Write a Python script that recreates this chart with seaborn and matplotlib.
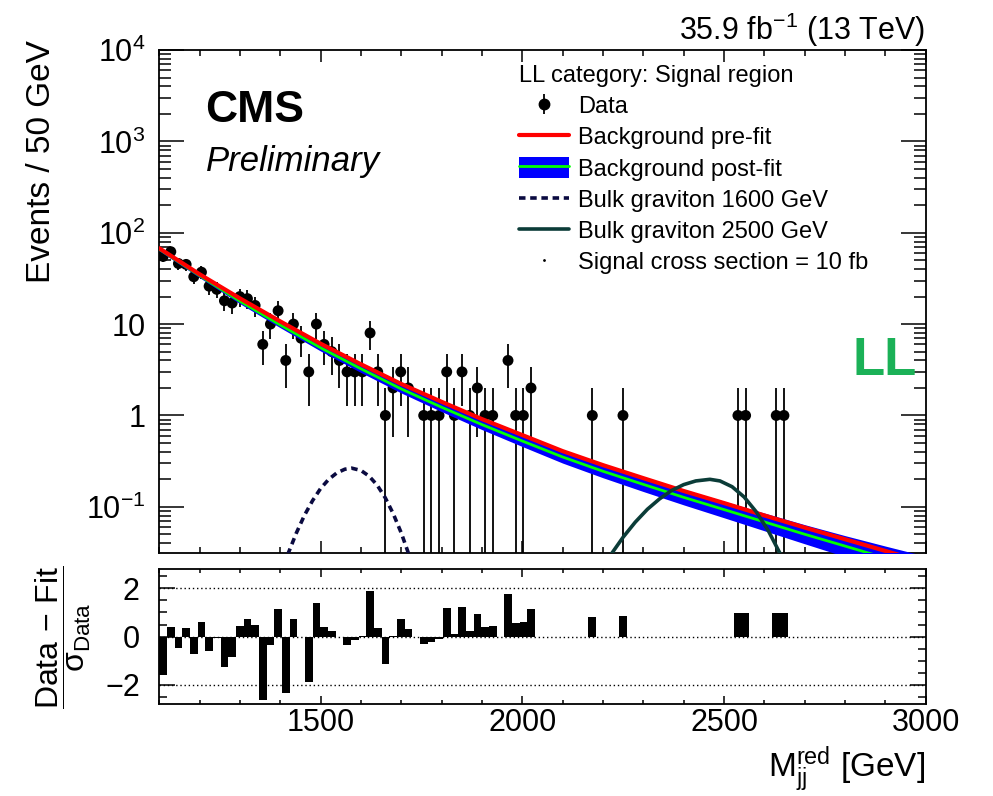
import numpy as np
import pandas as pd
import matplotlib
matplotlib.use("Agg")
import matplotlib.pyplot as plt
import seaborn as sns
from matplotlib.lines import Line2D
from matplotlib.patches import Patch
from matplotlib.legend_handler import HandlerTuple
from matplotlib.ticker import FixedLocator, MultipleLocator, LogLocator, NullFormatter, FuncFormatter

# ---------------- data ----------------
mass_min, mass_max, n_bins = 1100, 3000, 100   # 19 GeV bins

# events in the first 49 bins (1100 - 2031 GeV)
dense_counts = [55, 62, 46, 45, 33, 37, 26, 24, 18, 17,
                20, 19, 16, 6, 10, 14, 4, 10, 7, 3,
                10, 6, 5, 4, 3, 3, 3, 8, 3, 1,
                2, 3, 2, 0, 1, 1, 1, 3, 1, 3,
                1, 2, 1, 1, 0, 4, 1, 1, 2]
dense_pulls = [-1.58, 0.41, -0.48, 0.34, -0.72, 0.62, -0.58, -0.05, -1.24, -0.83,
               0.45, 0.72, 0.48, -2.61, -0.34, 1.13, -2.34, 0.72, 0.0, -1.86,
               1.40, 0.41, 0.25, 0.0, -0.34, -0.14, 0.04, 1.90, 0.34, -1.14,
               0.03, 0.72, 0.30, 0.0, -0.32, -0.21, -0.10, 1.17, 0.11, 1.24,
               0.25, 0.92, 0.41, 0.44, 0.0, 1.75, 0.58, 0.60, 1.13]
# isolated high-mass bins
sparse_bins = [56, 60, 75, 76, 80, 81]
sparse_counts = [1, 1, 1, 1, 1, 1]
sparse_pulls = [0.81, 0.87, 0.98, 0.98, 0.98, 0.98]

# background curves
curve_mass = [1100, 1200, 1300, 1400, 1500, 1600, 1700, 1800, 1900, 2000,
              2100, 2200, 2300, 2400, 2500, 2600, 2700, 2800, 2900, 3000]
bkg_prefit = [67.6, 35.1, 19.1, 10.7, 6.10, 3.63, 2.21, 1.41, 0.912, 0.610,
              0.407, 0.286, 0.206, 0.149, 0.110, 0.0805, 0.0593, 0.0442, 0.0329, 0.0245]
bkg_postfit = [66.1, 33.9, 17.8, 9.77, 5.50, 3.24, 1.95, 1.23, 0.794, 0.525,
               0.351, 0.245, 0.176, 0.127, 0.0933, 0.0684, 0.0501, 0.0372, 0.0275, 0.0204]
bkg_postfit_lo = [63.1, 32.2, 16.7, 9.12, 5.07, 2.95, 1.76, 1.10, 0.700, 0.457,
                  0.301, 0.208, 0.147, 0.105, 0.0759, 0.0547, 0.0394, 0.0285, 0.0204, 0.0145]
bkg_postfit_hi = [69.2, 35.6, 18.9, 10.5, 5.96, 3.55, 2.16, 1.38, 0.902, 0.603,
                  0.408, 0.290, 0.210, 0.155, 0.115, 0.0855, 0.0638, 0.0484, 0.0372, 0.0288]

# signal shapes
sig1600_mass = [1400, 1420, 1440, 1460, 1480, 1500, 1520, 1540, 1560, 1577,
                1600, 1620, 1640, 1660, 1680, 1700, 1720, 1740]
sig1600_vals = [0.0176, 0.0313, 0.052, 0.081, 0.117, 0.159, 0.200, 0.235, 0.258, 0.265,
                0.250, 0.217, 0.173, 0.126, 0.084, 0.0516, 0.029, 0.015]
sig2500_mass = [2200, 2220, 2250, 2280, 2310, 2340, 2370, 2400, 2430, 2465,
                2490, 2520, 2550, 2580, 2610, 2640, 2670]
sig2500_vals = [0.0219, 0.0302, 0.0466, 0.068, 0.094, 0.122, 0.151, 0.175, 0.192, 0.200,
                0.192, 0.166, 0.128, 0.088, 0.0546, 0.0302, 0.0149]

legend_labels = ["Data", "Background pre-fit", "Background post-fit",
                 "Bulk graviton 1600 GeV", "Bulk graviton 2500 GeV",
                 "Signal cross section = 10 fb"]

# ---------------- style ----------------
sns.set_theme(style="ticks")
plt.rcParams["font.family"] = ["Liberation Sans", "DejaVu Sans"]
plt.rcParams["mathtext.fontset"] = "custom"
plt.rcParams["mathtext.rm"] = "Liberation Sans"
plt.rcParams["mathtext.it"] = "Liberation Sans:italic"
plt.rcParams["mathtext.bf"] = "Liberation Sans:bold"
plt.rcParams["mathtext.sf"] = "Liberation Sans"
plt.rcParams["axes.linewidth"] = 1.3
for key in ("text.color", "axes.labelcolor", "xtick.color", "ytick.color", "axes.edgecolor"):
    plt.rcParams[key] = "black"

W, H = 993, 796
fig = plt.figure(figsize=(W / 100, H / 100), dpi=100)


def fx(px):
    return px / W


def fy(py):
    return 1 - py / H


L, R = 159.3, 925.7
ax = fig.add_axes([fx(L), fy(553.3), fx(R) - fx(L), fy(50) - fy(553.3)])
axp = fig.add_axes([fx(L), fy(704.3), fx(R) - fx(L), fy(569) - fy(704.3)])

edges = np.linspace(mass_min, mass_max, n_bins + 1)
centers = 0.5 * (edges[:-1] + edges[1:])
width = edges[1] - edges[0]
counts = np.zeros(n_bins)
counts[:len(dense_counts)] = dense_counts
counts[sparse_bins] = sparse_counts
pulls = np.zeros(n_bins)
pulls[:len(dense_pulls)] = dense_pulls
pulls[sparse_bins] = sparse_pulls

ax.set_yscale("log")
mask = counts > 0
df = pd.DataFrame({"mass": centers[mask], "events": counts[mask]})
err = np.sqrt(df["events"].values)
ax.vlines(df["mass"], np.clip(df["events"].values - err, 1e-4, None),
          df["events"].values + err, color="black", lw=1.3, zorder=2)
sns.scatterplot(data=df, x="mass", y="events", ax=ax, color="black", s=62,
                edgecolor="none", zorder=3, legend=False)

ax.fill_between(curve_mass, bkg_postfit_lo, bkg_postfit_hi, color="#0000ff", lw=0, zorder=4)
sns.lineplot(x=curve_mass, y=bkg_postfit, ax=ax, color="#00ff00", lw=2.0, zorder=5)
sns.lineplot(x=curve_mass, y=bkg_prefit, ax=ax, color="#ff0000", lw=3.0, zorder=6)
sns.lineplot(x=sig1600_mass, y=sig1600_vals, ax=ax, color="#0a0a40", lw=2.6,
             linestyle=(0, (1.8, 1.3)), zorder=7)
sns.lineplot(x=sig2500_mass, y=sig2500_vals, ax=ax, color="#0b3c38", lw=2.6, zorder=7)

ax.set_xlim(mass_min, mass_max)
ax.set_ylim(0.031, 1e4)
ax.set_xlabel("")
ax.set_ylabel("")
ax.xaxis.set_major_locator(FixedLocator([1500, 2000, 2500, 3000]))
ax.xaxis.set_minor_locator(MultipleLocator(100))
ax.tick_params(axis="x", which="both", direction="in", top=True, bottom=True,
               labelbottom=False, width=1.1)
ax.tick_params(axis="x", which="major", length=8.6)
ax.tick_params(axis="x", which="minor", length=4.3)
ax.yaxis.set_major_locator(LogLocator(base=10, numticks=20))
ax.yaxis.set_minor_locator(LogLocator(base=10, subs=np.arange(2, 10), numticks=20))
ax.yaxis.set_minor_formatter(NullFormatter())


def ylab(v, pos):
    e = int(round(np.log10(v)))
    if e == 0:
        return "1"
    if e == 1:
        return "10"
    return r"$10^{%d}$" % e


ax.yaxis.set_major_formatter(FuncFormatter(ylab))
ax.tick_params(axis="y", which="both", direction="in", left=True, right=True,
               labelsize=22, pad=10, width=1.1)
ax.tick_params(axis="y", which="major", length=18)
ax.tick_params(axis="y", which="minor", length=8.6)

# pull panel
axp.bar(centers, pulls, width=width, color="black", lw=0, zorder=3)
for yv in (-2, 0, 2):
    axp.axhline(yv, color="black", lw=1.0, ls=(0, (1, 2)), zorder=2)
axp.set_xlim(mass_min, mass_max)
axp.set_ylim(-2.8, 2.8)
axp.xaxis.set_major_locator(FixedLocator([1500, 2000, 2500, 3000]))
axp.xaxis.set_minor_locator(MultipleLocator(100))
axp.yaxis.set_major_locator(FixedLocator([-2, 0, 2]))
axp.yaxis.set_minor_locator(MultipleLocator(0.5))
axp.tick_params(axis="x", which="both", direction="in", top=True, bottom=True,
                labelsize=22, pad=3, width=1.1)
axp.tick_params(axis="x", which="major", length=5.8)
axp.tick_params(axis="x", which="minor", length=3.0)
axp.tick_params(axis="y", which="both", direction="in", left=True, right=True,
                labelsize=22, pad=14, width=1.1)
axp.tick_params(axis="y", which="major", length=11.5)
axp.tick_params(axis="y", which="minor", length=5.8)

# ---------------- texts ----------------
fig.text(fx(925), fy(40), r"35.9 fb$^{-1}$ (13 TeV)", ha="right", va="baseline", fontsize=22)
fig.text(fx(205), fy(122), "CMS", ha="left", va="baseline", fontsize=32, fontweight="bold")
fig.text(fx(206), fy(171), "Preliminary", ha="left", va="baseline", fontsize=25, fontstyle="italic")
fig.text(fx(853), fy(375), "LL", ha="left", va="baseline", fontsize=38, fontweight="bold",
         color="#1bb157")
fig.text(fx(42), fy(40), "Events / 50 GeV", rotation=90, ha="center", va="top", fontsize=24)
fig.text(fx(925), fy(777), r"M$_{\mathrm{jj}}^{\mathrm{red}}$ [GeV]", ha="right",
         va="baseline", fontsize=24)
fig.text(fx(63), fy(637), r"$\dfrac{\mathrm{Data\,-\,Fit}}{\mathrm{\sigma}_{\mathrm{Data}}}$",
         rotation=90, ha="center", va="center", fontsize=23)

# ---------------- legend ----------------
h_data = (Line2D([0], [0], color="black", marker="|", ls="none", ms=15, mew=1.3),
          Line2D([0], [0], color="black", marker="o", ls="none", ms=7.5))
h_pre = Line2D([0], [0], color="#ff0000", lw=3)
h_post = (Patch(facecolor="#0000ff", edgecolor="none"), Line2D([0], [0], color="#00ff00", lw=2))
h_s1 = Line2D([0], [0], color="#0a0a40", lw=2.6, ls=(0, (1.8, 1.3)))
h_s2 = Line2D([0], [0], color="#0b3c38", lw=2.6)
h_xs = Line2D([0], [0], color="black", marker=".", ms=2, ls="none")
leg = ax.legend(handles=[h_data, h_pre, h_post, h_s1, h_s2, h_xs], labels=legend_labels,
                title="LL category: Signal region", loc="upper left",
                bbox_to_anchor=(fx(519), fy(65)), bbox_transform=fig.transFigure,
                frameon=False, fontsize=17, title_fontsize=17, handlelength=2.1,
                handleheight=1.0, handletextpad=0.4, labelspacing=0.32,
                borderpad=0, borderaxespad=0, alignment="left",
                handler_map={tuple: HandlerTuple(ndivide=1, pad=0)})

fig.savefig("out.png", dpi=100)
